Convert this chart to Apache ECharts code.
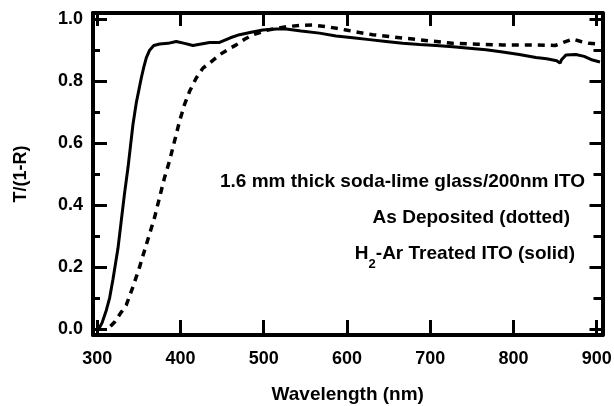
<!DOCTYPE html>
<html>
<head>
<meta charset="utf-8">
<script src="https://cdn.jsdelivr.net/npm/echarts@6/dist/echarts.min.js"></script>
<style>
  html, body { margin: 0; padding: 0; background: #fff; }
  #main { width: 614px; height: 406px; }
</style>
</head>
<body>
<div id="main"></div>
<script>
// H2-Ar treated ITO (solid line)
var solidWl = [302, 306, 311, 315, 319, 322, 325, 329, 333, 337, 340, 343, 347, 350, 353, 356, 359, 363, 368,
  375, 385, 395, 405, 415, 425, 435, 447, 460, 471, 485, 499, 515, 527, 545, 567, 587, 607, 627, 647, 667,
  687, 707, 727, 747, 767, 787, 807, 827, 840, 852, 856, 858, 863, 875, 885, 895, 904]
var solidT = [0.0, 0.02, 0.06, 0.10, 0.16, 0.21, 0.26, 0.35, 0.44, 0.52, 0.59, 0.66, 0.73, 0.77, 0.81, 0.845, 0.875, 0.90, 0.915,
  0.92, 0.922, 0.928, 0.922, 0.915, 0.92, 0.925, 0.925, 0.94, 0.95, 0.958, 0.965, 0.968, 0.968, 0.962, 0.955, 0.946, 0.94, 0.934, 0.928, 0.922,
  0.918, 0.915, 0.911, 0.906, 0.901, 0.894, 0.886, 0.876, 0.872, 0.866, 0.858, 0.87, 0.884, 0.886, 0.88, 0.868, 0.862]

// as deposited ITO (dotted line)
var dotWl = [316, 321, 328, 335, 343, 351, 357, 363, 369, 375, 381, 387, 393, 399, 405, 411, 419, 427, 435,
  447, 457, 467, 477, 487, 505, 527, 545, 559, 580, 599, 615, 631, 651, 671, 700, 727, 757, 787, 827, 850,
  860, 871, 881, 891, 900, 905]
var dotT = [0.008, 0.022, 0.05, 0.077, 0.136, 0.2, 0.254, 0.307, 0.36, 0.425, 0.489, 0.543, 0.607, 0.671, 0.725, 0.767, 0.81, 0.842, 0.858,
  0.885, 0.902, 0.917, 0.935, 0.95, 0.965, 0.976, 0.98, 0.981, 0.974, 0.965, 0.957, 0.95, 0.944, 0.938, 0.93, 0.922, 0.919, 0.917, 0.917, 0.915,
  0.925, 0.936, 0.928, 0.922, 0.92, 0.925]

var xTicks = [300, 400, 500, 600, 700, 800, 900]
var yTicks = [0, 0.2, 0.4, 0.6, 0.8, 1.0]
var yMinorTicks = [0.1, 0.3, 0.5, 0.7, 0.9]

var font = 'Liberation Sans'

function pairs (xs, ys) {
  var out = []
  xs.forEach(function (x, i) { out.push([x, ys[i]]) })
  return out
}

function xAxisOf (pos, len, labels) {
  return {
    type: 'value', position: pos, min: 295, max: 907,
    axisLine: { show: true, onZero: false, lineStyle: { color: '#000', width: 4 } },
    axisTick: { show: true, inside: true, length: len, customValues: xTicks, lineStyle: { color: '#000', width: 3 } },
    axisLabel: labels ? { show: true, customValues: xTicks, margin: 15, color: '#000', fontSize: 18, fontWeight: 'bold', fontFamily: font } : { show: false },
    splitLine: { show: false }
  }
}

function yAxisOf (pos, len, ticks, labels, line) {
  return {
    type: 'value', position: pos, min: -0.02, max: 1.02,
    axisLine: { show: line, onZero: false, lineStyle: { color: '#000', width: 4 } },
    axisTick: { show: true, inside: true, length: len, customValues: ticks, lineStyle: { color: '#000', width: 3 } },
    axisLabel: labels ? {
      show: true, customValues: ticks, margin: 10, color: '#000', fontSize: 18, fontWeight: 'bold', fontFamily: font,
      formatter: function (v) { return v.toFixed(1) }
    } : { show: false },
    splitLine: { show: false }
  }
}

var xBottom = xAxisOf('bottom', 15, true)
xBottom.name = 'Wavelength (nm)'
xBottom.nameLocation = 'middle'
xBottom.nameGap = 50
xBottom.nameTextStyle = { color: '#000', fontSize: 19, fontWeight: 'bold', fontFamily: font }

var yLeft = yAxisOf('left', 14, yTicks, true, true)
yLeft.name = 'T/(1-R)'
yLeft.nameLocation = 'middle'
yLeft.nameGap = 63
yLeft.nameTextStyle = { color: '#000', fontSize: 18, fontWeight: 'bold', fontFamily: font }

var textStyle = { font: 'bold 19px "Liberation Sans"', fill: '#000', align: 'right', verticalAlign: 'middle' }

var myChart = echarts.init(document.getElementById('main'))
myChart.setOption({
  backgroundColor: '#fff',
  animation: false,
  grid: { left: 93, right: 11.5, top: 13, bottom: 71, outerBoundsMode: 'none', containLabel: false },
  xAxis: [xBottom, xAxisOf('top', 13, false)],
  yAxis: [
    yLeft,
    yAxisOf('left', 7, yMinorTicks, false, false),
    yAxisOf('right', 13, yTicks, false, true),
    yAxisOf('right', 9, yMinorTicks, false, false)
  ],
  graphic: [
    { type: 'text', x: 585, y: 182, style: Object.assign({ text: '1.6 mm thick soda-lime glass/200nm ITO' }, textStyle) },
    { type: 'text', x: 570, y: 218, style: Object.assign({ text: 'As Deposited (dotted)' }, textStyle) },
    {
      type: 'text', x: 575, y: 254,
      style: Object.assign({
        text: '{n|H}{s|2}{n|-Ar Treated ITO (solid)}',
        rich: {
          n: { font: 'bold 19px "Liberation Sans"', fill: '#000', lineHeight: 22, verticalAlign: 'middle' },
          s: { font: 'bold 13px "Liberation Sans"', fill: '#000', lineHeight: 34, verticalAlign: 'bottom' }
        }
      }, textStyle)
    }
  ],
  series: [
    {
      name: 'H2-Ar Treated ITO', type: 'line', data: pairs(solidWl, solidT),
      showSymbol: false, lineStyle: { color: '#000', width: 3 }
    },
    {
      name: 'As Deposited', type: 'line', data: pairs(dotWl, dotT),
      showSymbol: false, lineStyle: { color: '#000', width: 3.5, type: [7, 6] }
    }
  ]
})
</script>
</body>
</html>
